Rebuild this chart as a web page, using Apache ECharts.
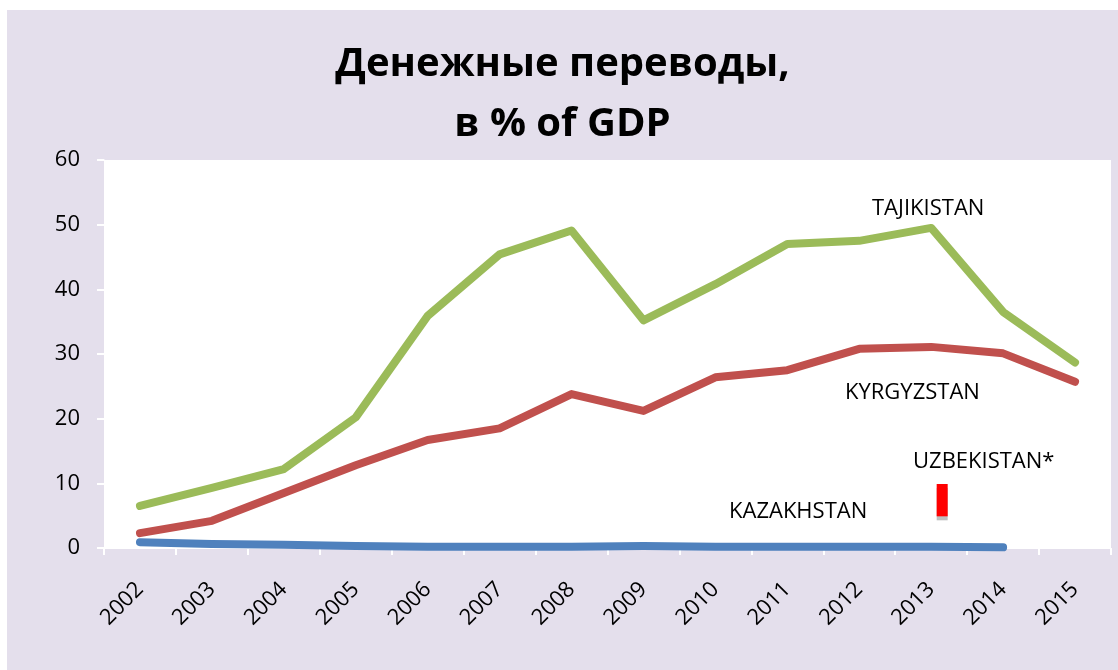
<!DOCTYPE html>
<html>
<head>
<meta charset="utf-8">
<script src="https://cdn.jsdelivr.net/npm/echarts@6/dist/echarts.min.js"></script>
<style>
  body { margin: 0; background: #fff; }
  #chart { position: absolute; left: 7px; top: 10px; width: 1111px; height: 660px; background: #e4dfec; }
</style>
</head>
<body>
<div id="chart"></div>
<script>
// years on the x axis
var years = ['2002', '2003', '2004', '2005', '2006', '2007', '2008', '2009', '2010', '2011', '2012', '2013', '2014', '2015']

// remittances, % of GDP
var tajikistan = [6.5, 9.3, 12.2, 20.2, 35.9, 45.4, 49.1, 35.2, 40.8, 47.0, 47.5, 49.5, 36.5, 28.7]
var kyrgyzstan = [2.3, 4.2, 8.5, 12.8, 16.7, 18.5, 23.8, 21.2, 26.4, 27.5, 30.8, 31.1, 30.1, 25.7]
var kazakhstan = [0.9, 0.6, 0.5, 0.3, 0.2, 0.2, 0.2, 0.3, 0.2, 0.2, 0.2, 0.2, 0.1, null]
// uzbekistan only has a range for 2013 (from .. to)
var uzbekLow = [null, null, null, null, null, null, null, null, null, null, null, 4.9, null, null]
var uzbekHigh = [null, null, null, null, null, null, null, null, null, null, null, 9.9, null, null]
var emptySlot = years.map(function() { return null })

var uzbekSpan = uzbekHigh.map(function(v, i) {
  return v == null ? null : +(v - uzbekLow[i]).toFixed(2)
})

var chart = echarts.init(document.getElementById('chart'))
var font = 'Open Sans'
var noteFont = '22px "Open Sans"'

function lineSeries(name, data, color) {
  return {
    name: name,
    type: 'line',
    data: data,
    symbol: 'none',
    smooth: false,
    lineStyle: { color: color, width: 8, cap: 'round', join: 'round' },
    z: 3
  }
}

chart.setOption({
  animation: false,
  title: {
    text: 'Денежные переводы,\nв % of GDP',
    left: 'center',
    top: 20,
    textStyle: {
      fontFamily: font,
      fontWeight: 'bold',
      fontSize: 40,
      lineHeight: 60,
      color: '#000'
    }
  },
  grid: {
    left: 97,
    right: 7,
    top: 150,
    bottom: 122,
    show: true,
    backgroundColor: '#fff',
    borderWidth: 0
  },
  xAxis: {
    type: 'category',
    data: years,
    axisLine: { show: true, lineStyle: { color: '#fff', width: 1 } },
    axisTick: { show: true, length: 7, lineStyle: { color: '#fff', width: 2 } },
    axisLabel: {
      rotate: 45,
      margin: 38,
      fontFamily: font,
      fontSize: 22,
      color: '#000'
    }
  },
  yAxis: {
    type: 'value',
    min: 0,
    max: 60,
    interval: 10,
    splitLine: { show: false },
    axisLine: { show: true, lineStyle: { color: '#fff', width: 1 } },
    axisTick: { show: true, length: 7, lineStyle: { color: '#fff', width: 2 } },
    axisLabel: {
      margin: 24,
      fontFamily: font,
      fontSize: 22,
      color: '#000'
    }
  },
  series: [
    lineSeries('TAJIKISTAN', tajikistan, '#9bbb59'),
    lineSeries('KYRGYZSTAN', kyrgyzstan, '#c0504d'),
    lineSeries('KAZAKHSTAN', kazakhstan, '#4f81bd'),
    {
      // empty slot so the uzbek bar sits right of the category centre
      name: 'empty',
      type: 'bar',
      stack: 'none',
      data: emptySlot,
      barWidth: 11,
      barGap: '100%',
      silent: true
    },
    {
      name: 'uzbek base',
      type: 'bar',
      stack: 'uz',
      data: uzbekLow,
      barWidth: 11,
      barGap: '100%',
      itemStyle: { color: 'rgba(0,0,0,0)' },
      silent: true
    },
    {
      name: 'UZBEKISTAN*',
      type: 'bar',
      stack: 'uz',
      data: uzbekSpan,
      barWidth: 11,
      barGap: '100%',
      itemStyle: {
        color: '#ff0000',
        shadowColor: 'rgba(0,0,0,0.25)',
        shadowBlur: 0,
        shadowOffsetY: 4
      }
    }
  ],
  graphic: [
    { type: 'text', left: 865, top: 188, style: { text: 'TAJIKISTAN', font: noteFont, fill: '#000' } },
    { type: 'text', left: 838, top: 372, style: { text: 'KYRGYZSTAN', font: noteFont, fill: '#000' } },
    { type: 'text', left: 906, top: 441, style: { text: 'UZBEKISTAN*', font: noteFont, fill: '#000' } },
    { type: 'text', left: 722, top: 491, style: { text: 'KAZAKHSTAN', font: noteFont, fill: '#000' } }
  ]
})
</script>
</body>
</html>
